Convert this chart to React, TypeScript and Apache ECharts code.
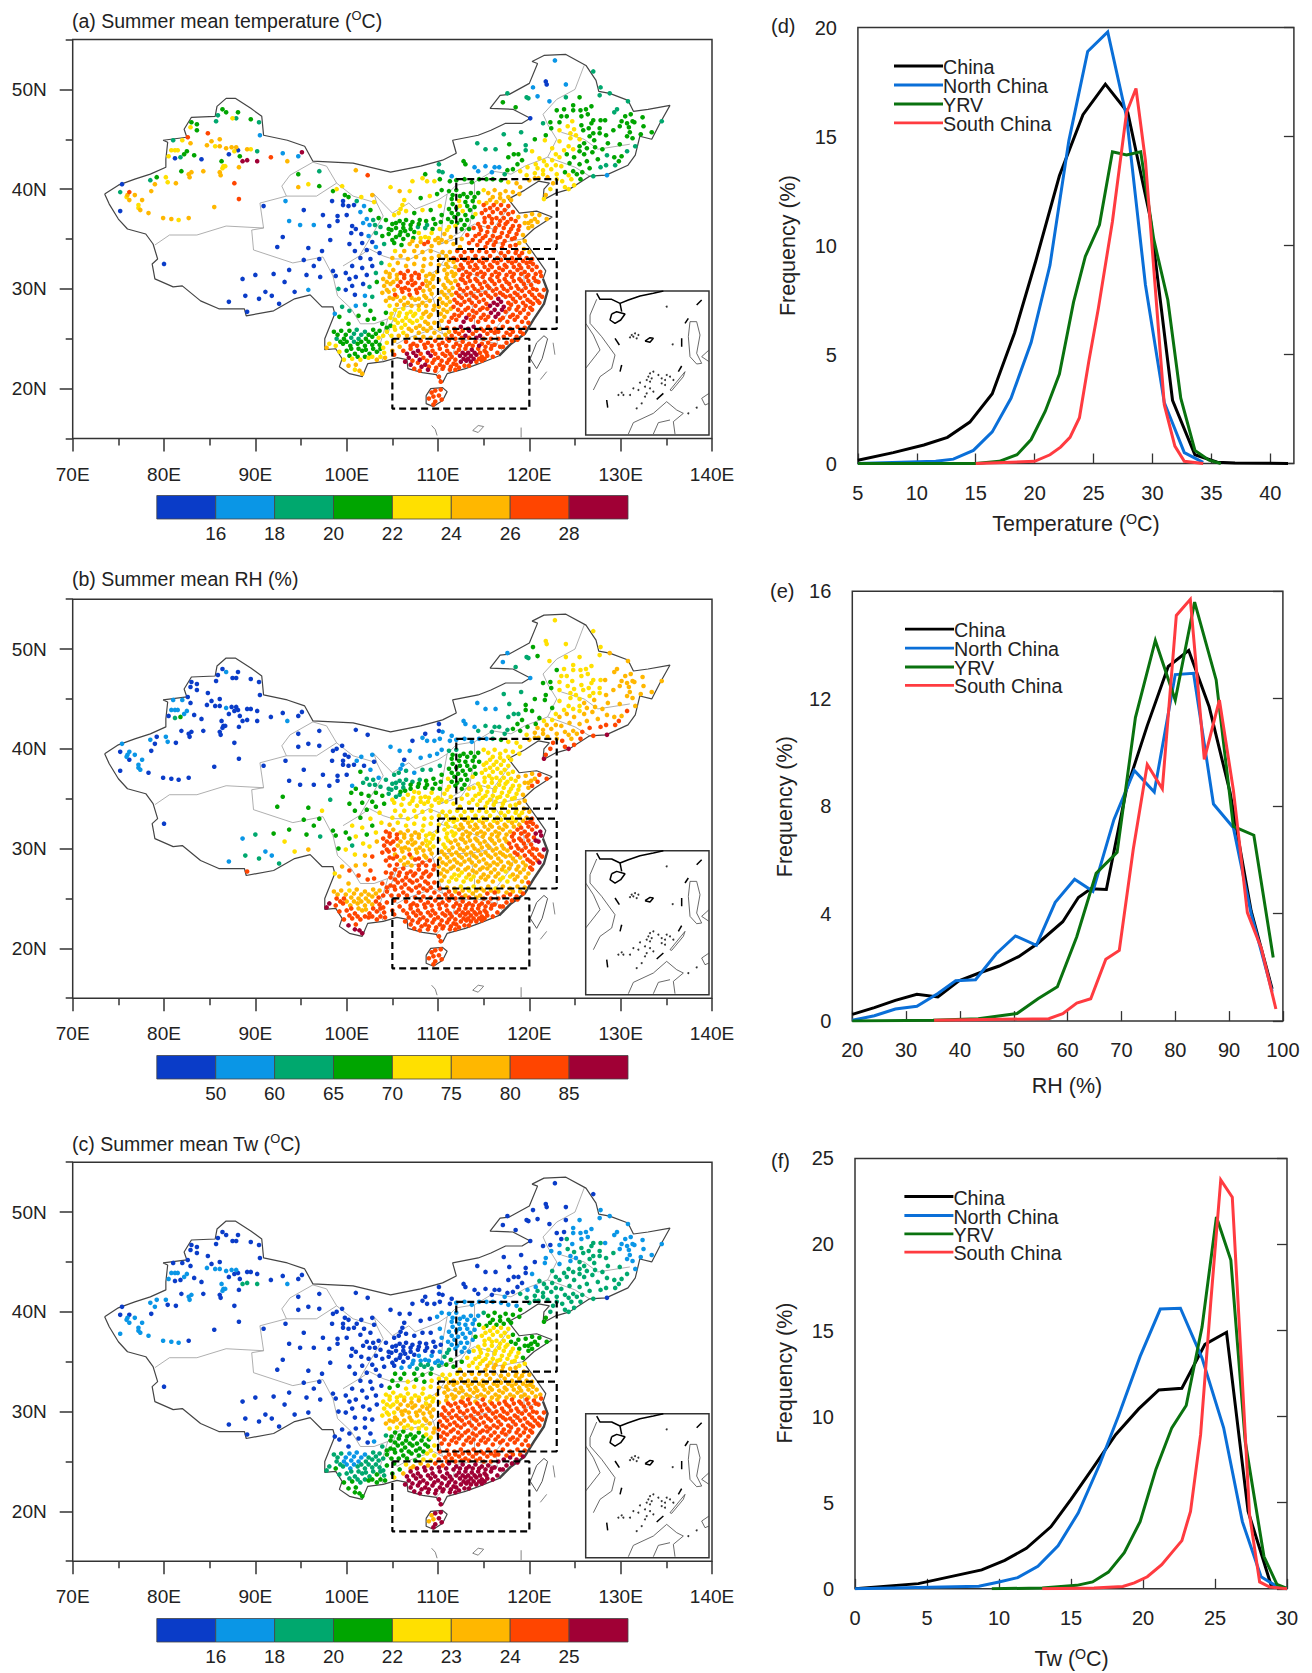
import React, { useEffect, useRef } from "react";
import * as echarts from "echarts";

const FONT = '"Liberation Sans", Arial, Helvetica, sans-serif';
const classColors = ["#0a3cc8", "#0a96e6", "#00a86e", "#00a500", "#ffe000", "#ffb700", "#ff4500", "#a00035"];

// Stations: [lon, lat, code]. code digits = class in panel (a), (b), (c).
const xinjiangStations = [
[86.4,48,300],[86.8,47.7,310],[88.1,47.7,300],[85.9,47.4,200],[85.7,46.8,200],[87.5,47.1,400],[87.9,47.1,200],[89.5,47,300],[90.4,46.7,200],[90.5,45.4,100],[83,46.7,300],[83.6,46.5,300],[83.6,45.9,300],[82.9,46.2,400],[84.8,45.6,600],[82.6,45.2,600],[81,44.9,210],[82,44.9,410],[82.9,44.6,500],[85.2,44.8,500],[86.1,45,500],[84.7,44.4,501],[85.6,44.3,401],[86.1,44.3,501],[86.8,44.1,511],[87.4,44.2,501],[87.9,44.2,501],[87.7,43.8,400],[88.1,43.9,0],[87.1,43.5,0],[88.3,43.3,300],[89.1,44,500],[89.5,44,400],[90.2,43.8,200],[91.7,43.2,600],[93,43.6,100],[94.7,43.3,100],[95.1,43.7,700],[93.5,42.8,511],[90.2,42.8,702],[89.1,42.9,702],[88.6,42.8,702],[86.3,42.8,301],[86.5,42.3,401],[86.7,42.3,401],[86.4,42.1,401],[88.2,42.2,500],[84.3,41.8,500],[86.1,41.7,500],[86.2,41.4,500],[81.9,41.8,300],[83,41.7,501],[82.7,41.5,501],[82.8,41.2,501],[80.5,43.3,401],[80.8,43.9,411],[81.2,43.9,411],[81.5,43.9,411],[82.5,43.8,311],[82.2,43.5,311],[81.8,43.2,230],[81.2,43.1,20],[83.3,43.4,300],[84.1,43,0],[79.2,41.2,301],[78.5,40.9,211],[80.2,41.2,411],[79,40.5,501],[80.4,40.7,410],[81.3,40.6,500],[78.6,39.8,500],[75.4,40.5,10],[75.2,39.7,200],[76.2,39.7,610],[76.8,39.4,511],[76,39.4,511],[75.9,39.2,411],[76.2,38.9,501],[77.6,38.9,511],[77.2,38.4,411],[77.2,38.1,411],[77.4,37.9,511],[78.3,37.6,501],[75.2,37.8,1],[79.9,37.1,501],[80.8,37,501],[81.6,36.9,401],[82.7,37.1,500],[85.5,38.2,500],[88.2,39,600],[87.7,40.6,600]];
const westStations = [
[101,41.9,500],[102.3,41.4,600],[94.7,41.5,300],[97,41.8,200],[95.8,40.5,400],[94.7,40.2,500],[97,40.3,300],[99.5,40.3,400],[98.9,40,400],[98.5,39.8,300],[99.8,39.4,300],[100.2,39.2,300],[101.1,38.8,210],[101.6,39.2,410],[102.8,39.4,510],[98.4,38.8,0],[99.6,38.8,0],[99.6,38.4,0],[100.2,38.3,0],[100.8,38.4,0],[101.9,38.3,100],[102.6,37.9,310],[103,38.7,400],[93.3,38.8,100],[90.9,38.3,0],[95.3,37.9,0],[97.4,37.4,0],[99,37.3,0],[100,37.4,0],[93.7,36.8,100],[99,36.8,0],[94.9,36.4,100],[96.4,36.4,100],[98.1,36.3,0],[100.6,36.3,10],[93,35.2,30],[98.2,34.9,20],[92.4,34.2,30],[95.8,34.1,30],[97.3,33.8,40],[80,32.5,0],[88.6,31,10],[90,31.4,20],[92,31.5,30],[93.7,31.9,30],[95.3,32.9,30],[97,33,30],[95.6,31.4,30],[96.4,32.3,30],[97.1,31.2,20],[98.5,31.8,30],[98.8,31.3,30],[99.9,31.6,30],[100.3,31,30],[93.2,30.7,40],[99.1,30,230],[94.3,29.7,40],[95.8,29.9,150],[88.9,29.3,20],[90.4,29,20],[91.1,29.7,10],[91.8,29.3,10],[87.1,28.7,10],[92.6,28.5,20],[89.1,27.7,60],
[101.5,37.7,130],[102.2,37,120],[102.9,36.9,220],[101.8,36.6,120],[102.5,36.4,120],[103.1,36.4,220],[101,36,30],[100.5,35.6,30],[101.6,35.5,30],[102.4,35.3,130],[102.8,34.7,30],[101.7,34.6,30],[100.3,34.5,30],[100.9,33.8,30],[102.2,33.9,30],[103.2,34.2,130],[103.6,33.6,40],[102.6,33,40],[101.5,33.1,30],
[100.6,32.3,40],[101.7,32.1,40],[102.8,32.3,30],[103.8,32.6,240],[103.2,31.6,240],[102.2,31.4,30],[101,31.2,40],[100.6,30.3,20],[101.8,30.5,40],[102.5,30.2,240],[103.3,30.7,350],[99.9,29.9,40],[100.9,29.4,40],[102,29.3,150],[102.8,29.2,260],[101,28.3,150],[102,28.4,250],[102.6,27.8,360],[100.3,27.8,260],[101.3,27.3,360],[102.3,26.9,360],[103,27,361],[99.5,28.2,250],[99.2,27.2,350],[100.2,26.5,350],[98.7,27.5,140]];
const northeastStations = [
[122.8,52.9,140],[127,51.8,240],[121.8,50.8,40],[121.9,50.5,40],[124,50.5,140],[120.4,50.2,130],[127.8,50.2,241],[117.6,49.6,210],[119.7,49.2,220],[119.9,49.1,220],[120.9,49.3,130],[122.2,48.8,140],[124,49.2,240],[125.5,49.2,341],[127.7,49.4,241],[128.8,49.6,251],[130.8,48.8,251],[117.1,48.7,310],[118.5,48.2,320],[120.1,47.1,10],[123,47.9,330],[123.8,48,340],[124.8,48.4,341],[124.8,47.9,341],[125.6,47.9,341],[126.2,48,341],[126.8,48.3,341],[129.6,48,251],[129.3,47.7,251],[131.1,47.5,351],[130.5,47.3,351],[131.3,46.8,351],[132.4,47.2,351],[134.5,46.8,251],[123.5,47.3,340],[124.1,47.3,342],[125.7,47.3,341],[126.4,47.5,341],[127,46.9,342],[128.3,46.9,351],[127.8,46.9,342],[122.3,46.7,330],[121.5,46.6,230],[123.3,46.7,341],[124.7,46.8,441],[125.7,46.4,342],[126.8,46.6,342],[130.1,46.8,351],[130.7,46.6,351],[131.5,46.7,351],[129.9,46.3,351],[130.9,46.2,351],[131,45.7,351],[132.5,46.3,351],[133.4,45.7,351],[132.2,45.5,351],[130.7,45.3,351],[131.3,45.1,351],[129.2,45.9,352],[128.4,45.4,352],[127.7,46.1,342],[127.7,45.6,342],[127,45.6,342],[126.6,45.3,342],[127.1,44.9,352],[126,44.6,352],[125.5,44.3,342],[129.9,44.5,352],[131.6,44.3,251],[130.7,43.8,262],[128.5,43.4,252],[129.3,43.2,352],[130.1,43.3,352],[127.8,42.2,262],[128.4,42.4,262],[129.4,42.4,262],[129.8,42.8,362],[128.5,41.4,170],
[119.1,45.7,220],[117.2,45.5,220],[114.3,44.6,210],[115.2,44,210],[116.3,44,210],[117.8,44.5,320],[119.6,44.4,230],[119.6,43.9,230],[120.6,45,330],[120.3,43.8,431],[121.7,44.9,431],[121.8,45.4,331],[122.4,46.1,331],[123.3,45.9,441],[123.3,44.8,441],[124.5,45.1,441],[125.1,45.4,441],[124.3,44.3,442],[122.5,44.1,432],[121.1,43.1,432],[117.7,43.2,320],[118.3,43.5,320],[118.8,43.5,320],[119.2,42.9,330],[118.7,42.5,330],[125.5,43.8,342],
[119.8,42.2,431],[120.7,42.5,431],[121.6,42.8,442],[122.5,42.9,442],[123.3,43.2,452],[124.1,43.5,352],[124.9,43.2,352],[126,43.5,352],[126.9,43.7,352],[127.5,43,352],[126.3,42.8,352],[125.5,42.5,352],[124.4,42.6,352],[123.5,42.3,452],[122.4,42,452],[121.5,41.9,452],[120.6,41.6,452],[119.7,41.4,442],[119,41.8,432],[120,40.9,552],[121,41.1,552],[122,41.2,552],[123,41.5,452],[123.9,41.7,352],[124.8,41.8,352],[125.8,41.7,362],[126.6,42.1,362],[127,41.3,262],[125.6,41,362],[124.6,41,452],[123.6,40.8,462],[122.6,40.6,562],[123.9,40.2,462],[124.9,40.4,462],[124.3,40,472],[121.8,39.4,563],[122.3,40,462],[121.6,39,473],
[124.2,46.3,442],[124.9,46,442],[125.9,45.9,342],[126.5,46.1,342],[124.5,45.6,441],[125.5,45,442],[126.3,44.1,352],[127.2,44.2,352],[128,44,352],[128.6,44.6,352],[123.8,43.9,442],[122.9,43.5,442],[124.8,44,442],[120.9,42.1,452],[121.9,42.4,452],[122.9,42.4,452],[123,41,452],[124.3,41.4,452],[125.2,41.5,352],[120.6,41.1,552],[121.5,41.5,452]];
const northStations = [
[114,42.2,110],[114.4,41.8,120],[115.2,42.3,120],[116.2,42.2,120],[116.7,42.2,120],[115.9,41.7,120],[111.5,41.3,110],[112.8,42.8,310],[113,42.5,310],[117.6,41.9,320],[118.2,42,330],[117.3,41.5,221],
[104.8,40.2,410],[105.8,39.8,510],[107.2,40.8,400],[108.6,41.5,300],[108.3,41.1,410],[108.8,40.8,410],[109.6,40.8,410],[110.1,41.8,200],[110.1,42.5,200],[110.5,41.7,210],[110.2,41,310],[110.4,39.9,311],[109.9,39.5,311],[109.1,39.3,410],[108.1,39.1,310],[106.9,39.8,410],[106.3,38.9,400],[106.1,38.4,410],[105.9,38,410],[105.7,37.6,420],[105.2,37.4,420],[106.5,37.8,420],[107.4,37.6,310],[108.3,37.9,420],[109.2,37.9,320],[110.2,38.3,421],[111.3,40.8,310],[112,40.9,311],[112.9,41,311],[113.7,40.7,311],[114.5,41,311],[115.3,41,311],[116,41,321],[116.9,40.9,331],[117.7,40.7,441],[118.6,40.6,541],[119,40.2,543],
[111.2,39.8,321],[112,39.9,321],[112.8,39.5,331],[113.6,39.6,331],[114.4,39.6,331],[115,39.9,442],[111.5,39,331],[112.3,38.8,431],[113,38.7,331],[113.8,38.8,331],[114.5,38.7,433],[111.2,38,331],[112,38.1,331],[112.7,37.8,431],[113.5,37.9,331],[114.1,37.5,433],[111.1,37,341],[111.8,37.2,331],[112.5,36.9,331],[113.2,36.9,331],[111.2,36.2,442],[111.9,36.3,431],[112.6,36,331],[113.4,36,341],
[115.5,39.6,543],[116.2,39.9,543],[116.8,39.5,543],[117.4,39.8,543],[118.2,39.7,543],[118.9,39.5,543],[115.7,38.9,543],[116.4,38.7,543],[117.2,38.8,543],[118,38.9,543],[115,38.4,644],[115.7,38.1,644],[116.5,38,644],[117.3,37.9,644],[118.2,37.7,643],[114.8,37.6,644],[115.6,37.3,644],[116.4,37.1,644],[117.2,37.1,644],[118,37,643],[118.8,37.2,553],
[119.6,37.3,553],[120.3,37.5,553],[121.1,37.4,563],[121.9,37,563],[119.5,36.6,553],[120.2,36.8,553],[120.9,36.7,563],[119.9,36.1,553],[120.3,36.3,563],[118.9,36.3,643],[118.2,36.3,644],[117.4,36.5,644],[116.7,36.4,644],[115.9,36.6,644],[115.1,36.7,644],[114.4,36.5,644],[113.9,36.1,644],[114.7,35.9,644],[115.4,35.7,644],[116.2,35.8,644],[117,35.6,644],[117.8,35.7,644],[118.6,35.5,644],[119.3,35.4,553],[114.1,35.3,644],[114.9,35.1,644],[115.7,34.9,644],[116.5,35.1,644],[117.3,34.8,644],[118.1,35,644],[118.9,34.6,554],[119.5,34.8,554],[113.2,35.4,644],[112.6,35,543],[113.4,34.6,644],[114.3,34.4,644],[115.2,34.2,645],[116.1,34.4,645],[117,34.1,645],[117.9,34.3,645],[118.6,33.9,645],[119.4,34,555],[120,33.7,555],
[103.5,37.1,310],[104.3,36.9,320],[105,36.5,320],[105.8,36.8,320],[106.5,36.9,320],[107.2,36.7,320],[108,36.9,320],[108.7,36.8,330],[109.5,37,330],[110.3,36.7,330],[110.4,37.4,331],[103.7,36.2,220],[104.6,36,320],[105.4,36.1,320],[106.2,36.1,320],[107,36,330],[107.8,36.2,230],[108.6,36.1,230],[109.4,36,330],[110.2,36,431],
[103.2,35.6,230],[103.9,35.3,330],[104.6,35.5,320],[105.4,35.2,320],[105.9,35.7,330],[106.7,35.4,340],[107.3,35.1,341],[107.9,35.6,441],[108.6,35.2,441],[109.3,35.6,441],[110,35.1,541],[110.7,35.5,542],[111.4,35.2,543],[104.1,34.5,230],[105.2,34.6,340],[106,34.4,341],[106.9,34.5,541],[107.7,34.3,542],[108.5,34.5,642],[109.3,34.3,542],[110.1,34.6,542],[110.9,34.7,543],[111.7,34.5,543],[112.4,34.2,544],
[116,39.2,543],[116.8,39.1,543],[117.7,39.2,543],[115.3,38.6,543],[116.1,38.4,644],[116.9,38.4,644],[117.7,38.3,644],[115.2,37.9,644],[116,37.7,644],[116.9,37.6,644],[117.7,37.5,644],[115.1,37.1,644],[115.9,37,644],[116.8,36.8,644],[117.6,36.7,644],[118.5,36.8,643],[114.6,36.2,644],[115.5,36.2,644],[116.3,36.1,644],[117.2,36.1,644],[118,36,644],[118.8,35.9,644],[114.5,35.5,644],[115.2,35.3,644],[116,35.3,644],[116.8,35.2,644],[117.6,35.3,644],[118.4,35.1,644],[113.8,34.9,644],[114.6,34.8,644],[115.4,34.6,645],[116.3,34.7,645],[117.1,34.5,645],[118.5,34.4,645],[119.9,36.6,553],[120.6,37,553],
[111.6,39.4,331],[112.4,39.3,331],[113.2,39.2,331],[114,39.2,331],[111.6,38.5,331],[112.4,38.3,431],[113.2,38.3,331],[114,38.2,331],[111.5,37.6,331],[112.2,37.5,331],[113,37.4,331],[113.8,37.2,341],[111.5,36.7,331],[112.1,36.6,331],[112.9,36.4,331],[105.4,36.6,320],[106.2,36.5,320],[107,36.4,330],[107.9,36.5,330],[108.8,36.4,230],[109.7,36.5,330],[104.9,35.9,320],[105.8,35.4,320],[106.4,35.8,330],[107.4,35.7,340],[108.1,35.1,441],[109,35.1,441],[110.4,34.9,541],[111,35.9,442],[109.7,34.9,541],[105,34.9,340],[106.2,35,340],[107.2,34.8,541],[108.1,34.7,542],[108.9,34.7,642],[107.4,33.8,543],[108.3,33.7,543],[109.2,33.8,543],[106.3,33.8,543],[105.3,33.8,443]];
const basinStations = [
[105,33.1,543],[105.9,33.3,543],[106.7,33,544],[107.6,33.2,543],[108.5,33,543],[109.3,33.1,544],[110.1,33.3,544],[104.7,32.4,453],[105.6,32.6,543],[106.5,32.3,544],[107.4,32.5,544],[108.4,32.3,544],[109.2,32.5,544],[110.1,32.4,545],
[104.3,31.7,564],[105.1,31.9,554],[105.9,31.6,654],[106.7,31.8,654],[107.5,31.6,654],[108.3,31.8,544],[109.1,31.5,544],[109.9,31.7,545],[104,31,564],[104.7,31.2,564],[105.5,31,564],[106.3,31.1,655],[107.1,30.9,655],[107.9,31.1,655],[108.7,30.8,544],[109.4,31,544],[110.1,30.9,545],
[104.1,30.3,564],[104.8,30.5,564],[105.6,30.3,655],[106.4,30.1,655],[107.2,30.4,655],[108,30.1,655],[108.8,30.3,545],[109.5,30.2,545],[103.9,29.6,564],[104.6,29.7,564],[105.3,29.4,655],[106.1,29.7,655],[106.9,29.4,665],[107.7,29.6,655],[108.5,29.3,555],[109.3,29.5,555],[104.3,28.8,565],[105.1,29,565],[105.9,28.8,555],[106.7,28.6,554],[107.5,28.9,564],[108.3,28.6,564],[109.1,28.8,565],
[104.3,27.6,362],[105.3,27.9,463],[106.2,28,463],[107,27.7,463],[107.9,27.9,463],[108.7,27.7,564],[109.5,27.9,565],[104.8,27.1,463],[105.7,27.3,463],[106.5,27.1,463],[107.3,27.3,463],[108.2,27.1,463],[109,27.2,563],[103.9,26.5,362],[104.8,26.3,363],[105.6,26.6,463],[106.4,26.4,463],[107.2,26.6,463],[108,26.3,563],[108.9,26.5,563],[109.6,26.6,564],[104.4,25.7,463],[105.3,25.9,463],[106.2,25.6,463],[107.1,25.8,563],[107.9,25.6,563],[108.8,25.8,564],[109.6,25.6,564],
[104.7,31.5,564],[105.5,31.4,564],[106.3,31.4,654],[107.1,31.3,654],[107.9,31.4,654],[108.7,31.3,544],[109.5,31.3,544],[104.4,30.7,564],[105.1,30.7,564],[105.9,30.7,655],[106.7,30.6,655],[107.5,30.6,655],[108.3,30.5,655],[109.1,30.6,545],[104.4,29.9,564],[105.2,29.9,564],[106,30,655],[106.8,29.9,655],[107.6,29.9,655],[108.4,29.8,555],[109.1,29.9,555],[104.7,29.1,565],[105.5,29.2,565],[106.3,29.1,555],[107.1,29.1,555],[107.9,29,564],[108.7,29.1,555],[109.6,28.3,565],[108.7,28.3,564],[107.9,28.3,564],[107.1,28.3,554],[106.3,28.4,554],[105.5,28.4,564],[104.7,28.3,464],
[104.9,27.5,463],[105.8,27.6,463],[106.6,27.5,463],[107.5,27.5,463],[108.4,27.5,563],[109.2,27.4,564],[105.3,26.9,463],[106.1,26.8,463],[106.9,26.8,463],[107.7,26.8,463],[108.6,26.7,563],[104.4,26.1,363],[105.2,26.2,463],[106,26.1,463],[106.8,26,563],[107.6,26.1,563],[108.4,26,563],[109.2,26.1,564],[104.9,25.3,463],[105.7,25.3,563],[106.6,25.3,563],[107.5,25.1,563],[108.4,25.2,564],[109.2,25.1,564]];
const yunnanStations = [
[98.6,25.7,352],[99.4,25.8,352],[100.3,25.8,341],[101.1,25.9,251],[102,25.7,251],[102.9,25.9,352],[103.6,25.8,352],[98.9,25,262],[99.7,25,361],[100.5,25.1,251],[101.3,25,251],[102.1,25,352],[102.8,25.2,352],[103.5,25.1,462],[98.1,24.5,472],[98.8,24.3,463],[99.6,24.5,362],[100.4,24.3,351],[101.2,24.5,352],[102,24.3,352],[102.8,24.4,352],[103.6,24.4,362],[104.4,24.6,463],[105.2,24.8,563],[97.8,24.1,572],[99.2,23.7,462],[100,23.8,362],[100.9,23.5,362],[101.7,23.8,352],[102.5,23.5,362],[103.3,23.7,363],[104.1,23.6,462],[105,23.8,563],[105.8,24.2,563],[99.7,22.9,463],[100.6,23,463],[101.5,22.9,462],[102.4,23.1,463],[103.3,22.9,563],[104.2,23.1,563],[105.2,23.4,664],[100.2,22.3,573],[101,22.4,563],[101.4,21.8,573],[100.9,21.9,473],[101.7,21.5,573],
[99,25.4,352],[99.9,25.4,351],[100.8,25.5,251],[101.6,25.4,251],[102.4,25.4,352],[103.2,25.5,352],[104,25.3,462],[99.3,24.7,362],[100,24.7,351],[100.8,24.7,251],[101.6,24.7,352],[102.4,24.7,352],[103.2,24.7,362],[104,24.1,462],[102.1,23.9,352],[100.5,24,362],[101.3,24,352],[102.9,24,362],[103.7,24,362],[100.3,23.3,362],[101.2,23.2,362],[102,23.2,362],[102.8,23.2,463],[103.7,23.2,463]];
const southStations = [
[106.5,24.7,664],[107.3,24.5,665],[108.1,24.8,665],[108.9,24.6,665],[109.7,24.8,666],[110.5,24.6,666],[111.2,24.8,667],[106.2,23.8,665],[107,24,667],[107.8,23.8,767],[108.6,24.1,667],[109.4,23.8,667],[110.2,24,667],[111,23.8,667],[106.8,23.1,767],[107.6,23.3,767],[108.4,23.1,667],[109.2,23.3,767],[110,23.1,667],[110.8,23.3,667],[111.5,23.2,667],[107,22.4,767],[107.8,22.6,667],[108.6,22.4,767],[109.4,22.6,667],[110.2,22.4,667],[111,22.6,667],[111.7,22.5,667],[108,21.8,667],[108.9,21.9,767],[109.7,21.8,667],[110.5,22,667],[111.3,21.9,667],[110.1,21.2,667],[110.3,20.7,667],
[112,24.5,667],[112.7,24.7,667],[113.4,24.5,667],[114.1,24.7,667],[114.8,24.5,667],[115.5,24.6,667],[116.2,24.4,667],[116.8,24.2,667],[112.3,23.9,667],[113,24,667],[113.7,23.9,767],[114.4,24,667],[115.1,23.8,667],[115.8,24,667],[116.5,23.6,667],[112.4,23.3,767],[113,23.4,767],[113.6,23.3,767],[114.2,23.4,767],[114.8,23.2,667],[115.4,23.3,667],[116,23.2,667],[112.5,22.7,767],[113.1,22.8,767],[113.6,22.7,767],[114.2,22.7,667],[114.8,22.8,667],[112.3,22.1,667],[112.9,22.3,667],[113.4,22.3,667],[111.9,21.9,667],
[109.3,19.6,665],[109.7,19.8,667],[110.3,19.9,667],[109.5,19.2,665],[110.1,19.3,667],[110.4,18.9,667],[109.7,18.7,667],[109,19,665],[109.5,18.4,667],
[116.6,25,667],[117.2,25.2,667],[117.9,25.4,667],[118.6,25.2,667],[119.3,25.5,667],[117.5,24.6,667],[118.1,24.8,667],[118.7,24.9,667],[117.1,24.2,667],
[110.8,25.4,566],[111.5,25.3,666],[112.3,25.5,666],[113,25.3,756],[113.8,25.5,656],[114.6,25.3,756],[115.4,25.5,666],[116.2,25.6,666],[110.2,26,566],[111,26.1,656],[111.8,26,656],[112.5,26.2,746],[113.3,26,746],[113.9,26.2,746],[114.7,26,656],[115.5,26.2,656],[116.3,26,646],[117.1,26.2,656],[117.9,26,656],[118.7,26.2,656],[119.5,26.1,656],[119.9,26.6,666],
[111.2,25.7,566],[111.9,25.7,656],[112.7,25.8,656],[113.4,25.8,746],[114.2,25.8,656],[115,25.8,656],[115.8,25.8,656],[116.6,25.7,656],[117.5,25.6,656],[118.2,25.7,656],[119,25.7,656],[110.1,25.2,566],[111,25,666],[111.9,25,666],[112.6,25.1,666],[113.4,25.1,666],[114.2,25.1,756],[115,25,666],[115.8,25,666],
[107,24.3,665],[107.7,24.3,667],[108.5,24.4,667],[109.3,24.3,667],[110.1,24.4,667],[110.9,24.3,667],[111.7,24.2,667],[112.4,24.3,667],[113.1,24.3,667],[113.8,24.3,667],[114.5,24.3,767],[115.2,24.2,667],[115.9,24.3,667],[106.6,23.5,767],[107.3,23.6,767],[108.1,23.5,667],[108.9,23.6,767],[109.7,23.5,667],[110.5,23.5,667],[111.3,23.5,667],[112,23.6,667],[112.7,23.6,767],[113.3,23.6,767],[114,23.6,767],[114.6,23.6,667],[115.3,23.6,667],
[106.4,22.7,767],[107.2,22.8,667],[108,22.9,767],[108.8,22.8,667],[109.6,22.9,667],[110.4,22.8,667],[111.2,22.9,667],[111.9,22.9,667],[112,22.4,667],[112.8,23,767],[113.3,23,767],[113.9,23,767],[114.5,23,667],[115.1,23,667],[107.4,22,667],[108.2,22.2,767],[109,22.2,667],[109.8,22.1,667],[110.6,22.2,667],[111.4,22.2,667]];
const yangtzeStations = [
[110.4,26.8,556],[111.2,26.7,646],[112,26.9,646],[112.8,26.7,746],[113.6,26.9,646],[114.4,26.7,656],[115.2,26.9,656],[116,26.7,656],[116.8,26.9,646],[117.6,26.7,646],[118.4,26.9,656],[119.2,26.7,656],
[110.3,27.5,556],[111,27.7,556],[111.8,27.4,646],[112.6,27.6,646],[113.4,27.4,656],[114.2,27.6,656],[115,27.4,656],[115.8,27.6,756],[116.6,27.5,756],[117.4,27.7,646],[118.2,27.4,656],[119,27.6,656],[119.9,27.5,656],[120.3,27.9,666],
[110.1,28.2,556],[110.9,28.4,556],[111.7,28.2,656],[112.5,28.4,656],[113.3,28.1,656],[114.1,28.3,656],[114.9,28.1,656],[115.7,28.3,756],[116.5,28.4,756],[117.2,28.2,756],[118,28.4,656],[118.8,28.2,656],[119.6,28.3,656],[120.4,28.5,666],[121.1,28.6,676],
[110.2,29,556],[111,29.1,556],[111.8,28.9,656],[112.6,29.1,656],[113.4,28.9,656],[114.2,29.1,656],[115,28.9,656],[115.8,29.1,656],[116.6,29,756],[117.4,29.2,656],[118.2,29,656],[119,29.1,656],[119.8,28.9,666],[120.6,29.1,666],[121.4,29.2,666],
[110.4,29.7,556],[111.2,29.8,556],[112,29.6,656],[112.8,29.8,656],[113.6,29.6,656],[114.4,29.8,656],[115.2,29.6,656],[116,29.8,656],[116.8,29.6,656],[117.6,29.8,656],[118.4,29.6,666],[119.2,29.8,666],[120,29.7,666],[120.8,29.9,666],[121.6,29.9,676],
[110.6,30.4,546],[111.4,30.6,556],[112.2,30.4,656],[113,30.6,656],[113.8,30.3,656],[114.6,30.5,656],[115.4,30.3,656],[116.2,30.5,656],[117,30.3,656],[117.8,30.5,666],[118.6,30.3,666],[119.4,30.5,666],[120.2,30.4,666],[121,30.7,676],
[110.9,31.1,545],[111.7,31.3,545],[112.5,31,656],[113.3,31.2,656],[114.1,31,655],[114.9,31.2,656],[115.7,31,655],[116.5,31.2,655],[117.3,31,656],[118.1,31.2,666],[118.9,31,666],[119.7,31.2,666],[120.5,31.1,666],[121.3,31.3,676],
[110.7,31.9,545],[111.5,31.7,545],[112.3,31.9,655],[113.1,31.7,655],[113.9,31.9,655],[114.7,31.7,655],[115.5,31.9,655],[116.3,31.7,655],[117.1,31.9,655],[117.9,31.7,655],[118.7,31.9,665],[119.5,31.7,665],[120.3,31.9,665],[121.2,31.7,675],
[110.9,32.5,545],[111.7,32.7,545],[112.5,32.4,655],[113.3,32.6,655],[114.1,32.4,655],[114.9,32.6,655],[115.7,32.4,655],[116.5,32.6,655],[117.3,32.4,655],[118.1,32.6,655],[118.9,32.4,655],[119.7,32.6,665],[120.4,32.5,665],
[110.9,33.3,544],[111.7,33.1,645],[112.5,33.3,645],[113.3,33.1,645],[114.1,33.3,645],[114.9,33.1,645],[115.7,33.3,645],[116.5,33.1,645],[117.3,33.3,645],[118.1,33.1,645],[118.9,33.3,645],[119.7,33.1,655],[120.3,33,665],
[110.7,27.2,556],[111.5,27.1,646],[112.3,27.3,646],[113.1,27.1,746],[113.9,27.2,646],[114.7,27.1,656],[115.5,27.2,656],[116.3,27.2,756],[117.1,27.1,646],[117.9,27.2,646],[118.7,27.2,656],[119.6,27.1,656],
[110.6,27.9,556],[111.4,28,556],[112.2,27.9,656],[113,27.9,656],[113.8,27.8,656],[114.6,27.9,656],[115.4,28,656],[116.2,27.9,756],[117,27.9,756],[117.8,28,656],[118.6,27.9,656],[119.4,27.9,656],[120.1,28.1,666],
[110.5,28.6,556],[111.3,28.7,556],[112.1,28.6,656],[112.9,28.7,656],[113.7,28.6,656],[114.5,28.7,656],[115.3,28.5,656],[116.1,28.6,756],[116.9,28.7,756],[117.7,28.6,656],[118.5,28.7,656],[119.3,28.6,656],[120.1,28.7,666],[120.9,28.8,666],
[110.7,29.4,556],[111.5,29.4,556],[112.3,29.3,656],[113.1,29.4,656],[113.9,29.3,656],[114.7,29.4,656],[115.5,29.3,656],[116.3,29.4,656],[117.1,29.4,656],[117.9,29.3,656],[118.7,29.4,666],[119.5,29.3,666],[120.3,29.4,666],[121.1,29.4,666],
[110.8,30.1,546],[111.6,30.1,556],[112.4,30,656],[113.2,30.1,656],[114,30,656],[114.8,30.1,656],[115.6,30.1,656],[116.4,30,656],[117.2,30,656],[118,30.1,666],[118.8,30,666],[119.6,30.1,666],[120.4,30,666],
[111.1,30.8,546],[111.9,30.8,556],[112.7,30.9,656],[113.5,30.8,656],[114.3,30.8,656],[115.1,30.7,656],[115.9,30.8,656],[116.7,30.8,656],[117.5,30.7,656],[118.3,30.8,666],[119.1,30.8,666],[119.9,30.8,666],[120.7,30.8,676],
[111,31.5,545],[111.9,31.5,545],[112.7,31.4,655],[113.5,31.5,655],[114.3,31.5,655],[115.1,31.5,655],[115.9,31.4,655],[116.7,31.5,655],[117.5,31.4,655],[118.3,31.5,665],[119.1,31.5,665],[119.9,31.4,665],[120.7,31.5,675],
[111.1,32.2,545],[111.9,32.2,545],[112.7,32.1,655],[113.5,32.2,655],[114.3,32.1,655],[115.1,32.2,655],[115.9,32.2,655],[116.7,32.1,655],[117.5,32.2,655],[118.3,32.2,655],[119.1,32.1,665],[119.9,32.2,665],[120.8,32.2,665],
[111.2,32.9,545],[112.1,32.9,645],[112.9,32.9,655],[113.7,32.8,645],[114.5,32.8,645],[115.3,32.9,645],[116.1,32.8,645],[116.9,32.9,645],[117.7,32.8,645],[118.5,32.8,645],[119.3,32.8,655],[120.1,32.7,665],
[110.5,33.7,544],[111.3,33.7,544],[112.1,33.8,644],[112.9,33.7,645],[113.7,33.8,645],[114.5,33.8,645],[115.3,33.7,645],[116.1,33.8,645],[116.9,33.6,645],[117.7,33.7,645],[118.5,33.6,645],[119.2,33.6,645]];
const allStations = [...xinjiangStations, ...westStations, ...northeastStations, ...northStations, ...basinStations, ...yunnanStations, ...southStations, ...yangtzeStations];

const nationalBorder = [[73.5,39.5],[75,40.4],[76.8,41],[78.5,41.5],[80.2,42.2],[80.2,43],[80.4,44.7],[79.9,44.9],[82.5,45.2],[82.2,46],[83,47.2],[85.6,47.3],[85.8,48.3],[86.8,49.1],[87.8,49.1],[89.5,48.1],[90.7,47.3],[90.9,45.4],[93.5,44.9],[95.4,44.3],[96.3,42.8],[100.7,42.6],[104.8,41.7],[108.1,42.3],[110.5,42.9],[112,43.6],[111.6,44.9],[114.4,45.4],[115.8,45.9],[117.4,46.6],[119.2,46.6],[120.1,47.1],[118.2,48],[115.7,48.1],[116.8,49.4],[117.8,49.5],[120,50.6],[120.9,52.6],[120.3,52.8],[121.6,53.4],[124,53.5],[126.2,52.4],[127.3,50.9],[127.6,49.8],[128.8,49.6],[130.8,48.9],[131.4,47.8],[133,48],[135.4,48.4],[134.3,46.6],[133.4,45],[132.1,45.3],[131.6,43.4],[130.8,42.4],[128.4,41.4],[126.6,41.3],[124.4,40],[122.9,39.6],[121.5,38.9],[121.6,40],[122.2,40.6],[121,40.8],[119.5,39.9],[117.7,39],[118.9,37.6],[120.8,37.8],[122.5,37.2],[120.5,36],[119.3,35],[120.5,33.5],[121.8,31.8],[121.5,31],[122,29.8],[121.6,28.5],[120.5,27],[119.5,25.5],[118,24.5],[116.7,23.3],[114.5,22.5],[113,22],[111,21.5],[110.5,20.6],[109.8,21.4],[108.3,21.6],[106.7,22],[106.6,22.9],[105.5,23.1],[104,22.7],[102.3,22.5],[101.7,21.2],[100.3,21.5],[99.2,22.2],[99.5,23],[98.8,24],[97.6,23.9],[97.6,25],[98.7,27.5],[98.5,28.2],[97.3,28.2],[96,29.4],[94.3,29],[92,27.8],[89,27.3],[88.8,28],[86,28],[84,28.8],[82,30.3],[81,30.2],[79,31],[78.7,32.5],[79.3,33],[78.8,34.5],[78,35.5],[76,36],[75,37],[74,38.5],[73.5,39.5]];
const hainanOutline = [[108.7,19.3],[109.2,20],[110.5,20.1],[111,19.7],[110.5,18.8],[109.5,18.2],[108.7,18.5],[108.7,19.3]];
const taiwanOutline = [[121.6,25.3],[122,25],[121.4,23],[120.8,22],[120.1,23],[120.8,24.6],[121.6,25.3]];
const southSeaBits = [[[109.3,16.3],[109.7,15.9],[109.9,15.3]],[[113.8,15.8],[114.4,16.3],[115,16.2],[114.4,15.6],[113.8,15.8]],[[119.1,16.1],[119.1,15.1]],[[122.6,24.6],[122.8,23.4]],[[121.2,20.9],[121.9,21.7]]];
const southeastCoast = [[116.7,23.3],[118,24.5],[119.5,25.5],[120.5,27],[121.6,28.5],[122,29.8],[121.5,31]];
const provinceLines = [
[[79,34.4],[80.6,35.4],[83.6,35.4],[86.8,36.3],[90.9,36.1],[89.6,35.9],[89.8,33.9],[94.1,32.6],[97.4,33.2],[98.5,31.3],[99,29.3],[100.5,28],[101.5,26.5],[103,26.5],[104.5,27],[105.5,28],[108,28.5],[109.5,29],[108.5,31],[110,32],[111,33.3],[109,34],[107,33],[105,33],[104,33.3],[102.5,34],[101.4,33.3],[99.6,32.3]],
[[90.9,36.1],[90.5,38.6],[93.4,39.3],[92.9,40.3],[93.8,41.4],[96.3,42.7]],
[[93.4,39.3],[96.7,39.3],[98.9,40.6],[100.7,39.3],[103.3,38.6],[104,37.3],[102.9,35.6],[101.4,33.3]],
[[96.3,42.7],[97.8,42.3],[98.9,40.6]],
[[103.3,38.6],[103,39.5],[105,37.6],[106.8,38.6],[107.5,38],[110,38.9],[111,39.5],[112,40.4],[114,40.7],[116,41.8],[118,41.5],[119.5,42.3],[122,43.2],[123,45],[122,46.5],[121.5,47.5],[123,49],[125,50],[126,52.4]],
[[105.5,28],[104.5,25.5],[105.5,24.5],[106.5,25],[109.5,26],[110.5,25.5],[112,24.7],[114,25],[115.5,24.7],[116.5,24.5],[117.2,23.6]],
[[113.5,29.5],[114,27],[114,25]],
[[110,32.5],[113,31.8],[115,31],[116,30],[113.5,29.5],[110,29.5]],
[[116.5,24.5],[116.3,26],[118,28],[118.3,29],[119.5,30.3],[121,31]],
[[116,34.5],[117,33],[118.5,33],[119.3,32],[119.5,30.3]],
[[110.3,34.5],[113,36],[114,36.5],[116,36],[116,34.5],[119.3,35]],
[[111,39.5],[110.5,37],[110.3,34.5],[112.5,35.2],[113.5,36.5],[114,39],[114,40.7]],
[[116,36],[117.8,38.2]],
[[122,43.2],[125,42.2],[126.6,41.3]],
[[123.5,45.7],[126,45],[127.5,44],[131,44.5]],
[[109.8,21.4],[111.5,23],[112,24.7]],
[[110,29.5],[109.5,29],[110.5,25.5]],
[[104.5,27],[103.5,24],[104,22.7]]];
const dashedBoxes = [
[[112,41],[123,41],[123,34],[112,34],[112,41]],
[[110,33],[123,33],[123,26],[110,26],[110,33]],
[[105,25],[120,25],[120,18],[105,18],[105,25]]];

// Inset map, in the inset's own axis units
const insetThick = [[[890,160],[900,178],[935,178],[960,190],[985,180],[1020,168],[1060,160],[1090,153]],[[935,222],[950,215],[975,222],[962,240],[945,250],[930,240],[935,222]],[[960,190],[965,215]],[[1035,303],[1050,293],[1060,295],[1050,307],[1035,303]],[[1155,250],[1165,235]],[[945,295],[958,315]],[[965,375],[960,395]],[[920,480],[923,503]],[[1070,478],[1090,460]],[[1145,295],[1145,320]],[[1190,195],[1205,180]],[[1135,395],[1145,378]]];
const insetThin = [[[890,178],[870,225],[870,250],[905,290],[945,345],[935,385],[900,410],[880,450]],[[857,250],[880,285],[900,330],[857,385]],[[985,582],[1000,548],[1060,520],[1100,485],[1130,510],[1150,520],[1120,545],[1125,582]],[[1060,582],[1075,548],[1110,540]],[[1170,245],[1190,245],[1200,285],[1190,340],[1205,370],[1190,372],[1170,350],[1165,290],[1170,245]],[[1227,330],[1205,350],[1227,365]],[[1110,450],[1155,395],[1150,410],[1115,452],[1110,450]],[[1227,460],[1205,475],[1215,495],[1227,490]]];
const insetIslands = [[995,285],[990,292],[1000,290],[1005,280],[1015,285],[1010,295],[1100,200],[1118,313],[1050,400],[1045,410],[1055,415],[1040,420],[1060,395],[1050,425],[1075,405],[1085,415],[1095,420],[1100,405],[1110,410],[1085,430],[1095,435],[1120,420],[1020,428],[1035,440],[1050,445],[1000,445],[1015,450],[990,465],[1040,460],[1035,470],[1060,455],[965,458],[955,465],[970,465],[1010,505],[1025,490],[1165,520],[1190,503]];

const panelTitles = ["(a) Summer mean temperature ({s|O}C)", "(b) Summer mean RH (%)", "(c) Summer mean Tw ({s|O}C)"];
const colorbarLabels = [["16","18","20","22","24","26","28"],["50","60","65","70","75","80","85"],["16","18","20","22","23","24","25"]];
const lonMajor = [70,80,90,100,110,120,130,140];
const lonMinor = [75,85,95,105,115,125,135];
const latMajor = [20,30,40,50];
const latMinor = [15,25,35,45,55];

// Frequency curves: [x, y]
const seriesNames = ["China","North China","YRV","South China"];
const seriesColors = ["#000000","#0a6fd8","#0a720f","#ff3b40"];
const tempChina = [[5,.15],[8,.5],[10.6,.85],[12.6,1.2],[14.5,1.9],[16.4,3.2],[18.3,6],[20.1,9.3],[22.1,13.2],[24.1,16],[26,17.4],[27.9,16.1],[29.8,11.3],[31.7,2.9],[33.6,.4],[35.5,.06],[37,.02],[41.5,0]];
const tempNorth = [[5,0],[11.6,.1],[13.1,.2],[14.8,.6],[16.4,1.45],[18,3],[19.7,5.55],[21.3,9.1],[22.9,14.8],[24.5,18.9],[26.2,19.8],[27.8,15.9],[29.4,8.2],[31,2.8],[32.7,.5],[34.3,.05]];
const tempYrv = [[5,0],[15,0],[17,.1],[18.5,.4],[19.7,1.1],[20.9,2.4],[22.1,4.1],[23.3,7.4],[24.3,9.5],[25.5,10.95],[26.6,14.3],[27.8,14.15],[29,14.3],[30.1,10.3],[31.3,7.5],[32.4,3],[33.6,.6],[34.8,.15],[35.8,0]];
const tempSouth = [[15,0],[20,.1],[21.3,.4],[22.2,.75],[23,1.2],[23.8,2.1],[24.6,4.7],[25.4,7.1],[26.6,11.1],[27.8,16.1],[28.6,17.2],[29.4,13.9],[30.3,7.6],[31,2.7],[31.9,.8],[32.7,.1],[34.3,0]];
const rhChina = [[20,.25],[24.1,.5],[28,.77],[32,1],[35.9,.9],[39.8,1.5],[43.7,1.8],[47.3,2.05],[50.9,2.4],[54.5,2.9],[59.1,3.7],[62,4.6],[64.3,4.93],[67.2,4.9],[70.9,8.6],[74.8,11],[78.7,13.2],[82.5,13.8],[86.3,11.7],[90.2,8.5],[94.1,4.1],[98,1.2]];
const rhNorth = [[20,.03],[24.1,.2],[28,.45],[32,.55],[35.9,1.03],[39.2,1.5],[42.9,1.54],[46.7,2.5],[50.3,3.17],[54.2,2.82],[57.7,4.42],[61.3,5.28],[64.7,4.83],[68.6,7.5],[72.4,9.33],[76.1,8.53],[80,12.9],[83.4,12.95],[87.1,8.08],[90.8,7.2],[94.1,4],[98,1.1]];
const rhYrv = [[20,0],[35,.03],[43.4,.09],[50.6,.28],[54.5,.83],[58.1,1.28],[61.7,3.14],[65.3,5.5],[69.2,6.28],[72.6,11.3],[76.3,14.17],[80,11.95],[83.6,15.6],[87.6,12.7],[90.8,7.25],[94.6,6.92],[98.2,2.37]];
const rhSouth = [[35.2,.03],[56.5,.09],[59.1,.28],[61.7,.67],[64.3,.83],[67.1,2.3],[69.6,2.63],[72.2,6.4],[74.8,9.55],[77.6,8.65],[80.2,15.1],[82.8,15.7],[85.4,9.74],[88.2,11.95],[90.8,8.6],[93.4,4.04],[96,2.7],[98.7,.45]];
const twChina = [[0,0],[4.4,.3],[8.8,1.1],[10.4,1.65],[11.9,2.35],[13.6,3.6],[15,5.2],[16.5,7],[18.1,8.95],[19.7,10.45],[21.1,11.55],[22.7,11.65],[24.3,14.2],[25.8,14.9],[27.3,4.5],[28.9,.2],[30,0]];
const twNorth = [[0,0],[8.6,.15],[10,.4],[11.3,.65],[12.7,1.3],[14.1,2.5],[15.5,4.4],[17,7.25],[18.3,10.05],[19.8,13.5],[21.2,16.25],[22.6,16.3],[24.1,13.4],[25.6,9.35],[26.9,3.9],[28.2,.7],[29.3,.14],[30,0]];
const twYrv = [[9.5,0],[13,.05],[15.4,.2],[16.5,.4],[17.6,.97],[18.7,2.1],[19.8,3.9],[20.9,6.95],[22,9.35],[23,10.65],[24.1,15.2],[25.1,21.6],[26.1,19.1],[27.1,8.55],[28.4,1.87],[29.3,.26],[30,.03]];
const twSouth = [[13,0],[16.6,.04],[18.6,.14],[19.4,.34],[20.3,.7],[21.3,1.4],[22,2.1],[22.7,2.8],[23.3,4.5],[24,8.95],[24.7,16.6],[25.4,23.75],[26.2,22.75],[26.8,13.6],[27.4,4.3],[28.1,.4],[28.8,.1],[30,0]];

const mapTops = [39.5, 599.2, 1162.2];
const barTops = [495.5, 1055.5, 1618.5];
const lineLayouts = [
  { left: 857.9, top: 27.5, w: 436, h: 436, xMin: 5, xMax: 42, xTicks: [5,10,15,20,25,30,35,40], yMax: 20, yStep: 5, curves: [tempChina,tempNorth,tempYrv,tempSouth], tag: "(d)", tagX: 771, tagY: 26, legX: 894, legY: [66,85,104,122.8], name: "Temperature ({s|O}C)", nameX: 1076, nameY: 524, freqX: 788, freqY: 245.6 },
  { left: 852.3, top: 591.3, w: 430.6, h: 429.8, xMin: 20, xMax: 100, xTicks: [20,30,40,50,60,70,80,90,100], yMax: 16, yStep: 4, curves: [rhChina,rhNorth,rhYrv,rhSouth], tag: "(e)", tagX: 770, tagY: 590.7, legX: 905, legY: [629.2,648.2,667,685.4], name: "RH (%)", nameX: 1067, nameY: 1086, freqX: 785, freqY: 806.7 },
  { left: 855, top: 1158.4, w: 432, h: 430.4, xMin: 0, xMax: 30, xTicks: [0,5,10,15,20,25,30], yMax: 25, yStep: 5, curves: [twChina,twNorth,twYrv,twSouth], tag: "(f)", tagX: 771, tagY: 1161, legX: 904.4, legY: [1196.5,1215.5,1233.9,1252.2], name: "Tw ({s|O}C)", nameX: 1071.6, nameY: 1659, freqX: 785, freqY: 1373 },
];

function buildOption() {
  const grid: any[] = [], xAxis: any[] = [], yAxis: any[] = [], series: any[] = [], graphic: any[] = [];
  const supRich = (base: number) => ({ s: { fontSize: base * 0.66, fontFamily: FONT, fill: "#222", color: "#222", padding: [0, 0, base * 0.5, 0] } });
  const text = (t: string, x: number, y: number, size: number, align = "left", rotation = 0) => ({
    type: "text", x, y, rotation, z: 50,
    style: { text: t, fontSize: size, fontFamily: FONT, fill: "#222", align, verticalAlign: "middle", rich: supRich(size) },
  });
  const digit = [(c: number) => Math.floor(c / 100), (c: number) => Math.floor(c / 10) % 10, (c: number) => c % 10];

  mapTops.forEach((top, i) => {
    const g = grid.length;
    grid.push({ left: 72.7, top, width: 639.3, height: 399, show: true, borderColor: "#333", borderWidth: 1.5, containLabel: false });
    const xa = xAxis.length, ya = yAxis.length;
    const labelStyle = { fontSize: 19, fontFamily: FONT, color: "#222" };
    xAxis.push({ type: "value", gridIndex: g, position: "bottom", min: 70, max: 140, splitLine: { show: false }, axisLine: { show: false },
      axisTick: { show: true, length: 13, customValues: lonMajor, lineStyle: { color: "#333", width: 1.5 } },
      axisLabel: { show: true, margin: 26, customValues: lonMajor, formatter: (v: number) => v + "E", ...labelStyle } });
    xAxis.push({ type: "value", gridIndex: g, position: "bottom", min: 70, max: 140, splitLine: { show: false }, axisLine: { show: false },
      axisTick: { show: true, length: 7, customValues: lonMinor, lineStyle: { color: "#333", width: 1.5 } }, axisLabel: { show: false } });
    yAxis.push({ type: "value", gridIndex: g, position: "left", min: 15, max: 55, splitLine: { show: false }, axisLine: { show: false },
      axisTick: { show: true, length: 13, customValues: latMajor, lineStyle: { color: "#333", width: 1.5 } },
      axisLabel: { show: true, margin: 26, customValues: latMajor, formatter: (v: number) => v + "N", ...labelStyle } });
    yAxis.push({ type: "value", gridIndex: g, position: "left", min: 15, max: 55, splitLine: { show: false }, axisLine: { show: false },
      axisTick: { show: true, length: 7, customValues: latMinor, lineStyle: { color: "#333", width: 1.5 } }, axisLabel: { show: false } });
    const line = (data: number[][], color: string, width: number, z: number, type: any = "solid") => series.push({
      type: "line", xAxisIndex: xa, yAxisIndex: ya, data, symbol: "none", silent: true, z,
      lineStyle: { color, width, type }, emphasis: { disabled: true },
    });
    provinceLines.forEach((p) => line(p, "#9a9a9a", 0.8, 2));
    line(nationalBorder, "#444", 1.2, 3);
    line(hainanOutline, "#444", 1.2, 3);
    line(taiwanOutline, "#555", 1, 3);
    southSeaBits.forEach((p) => line(p, "#777", 0.9, 3));
    line(southeastCoast, "#444", 2.4, 3);
    classColors.forEach((color, k) => {
      series.push({
        type: "scatter", xAxisIndex: xa, yAxisIndex: ya, symbolSize: 4.6, silent: true, z: 4,
        itemStyle: { color, opacity: 1 },
        data: allStations.filter((s) => digit[i](s[2]) === k).map((s) => [s[0], s[1]]),
      });
    });
    dashedBoxes.forEach((b) => line(b, "#000", 2.2, 5, [7, 4]));

    // inset
    const ig = grid.length;
    grid.push({ left: 585.7, top: top + 251.5, width: 123.3, height: 144, show: true, backgroundColor: "#fff", borderColor: "#333", borderWidth: 1.5, z: 6 });
    const ix = xAxis.length, iy = yAxis.length;
    xAxis.push({ type: "value", gridIndex: ig, min: 857, max: 1227, show: false });
    yAxis.push({ type: "value", gridIndex: ig, min: 153, max: 585, inverse: true, show: false });
    const iline = (data: number[][], color: string, width: number) => series.push({
      type: "line", xAxisIndex: ix, yAxisIndex: iy, data, symbol: "none", silent: true, z: 7, lineStyle: { color, width },
    });
    insetThin.forEach((p) => iline(p, "#444", 0.8));
    insetThick.forEach((p) => iline(p, "#000", 1.5));
    series.push({ type: "scatter", xAxisIndex: ix, yAxisIndex: iy, data: insetIslands, symbolSize: 2, silent: true, z: 7, itemStyle: { color: "#000" } });

    // title and colour bar
    graphic.push(text(panelTitles[i], 72, [20.7, 579, 1143.5][i], 19.5));
    const cw = 58.9, cl = 156.8;
    classColors.forEach((fill, k) => {
      graphic.push({ type: "rect", z: 40, shape: { x: cl + k * cw, y: barTops[i], width: cw, height: 23.5 }, style: { fill, stroke: "#444", lineWidth: 0.8 } });
    });
    colorbarLabels[i].forEach((t, k) => graphic.push(text(t, cl + (k + 1) * cw, barTops[i] + 38, 19, "center")));
  });

  lineLayouts.forEach((p) => {
    const g = grid.length;
    grid.push({ left: p.left, top: p.top, width: p.w, height: p.h, show: true, borderColor: "#333", borderWidth: 1.5 });
    const xa = xAxis.length, ya = yAxis.length;
    const lab = { fontSize: 20, fontFamily: FONT, color: "#222" };
    xAxis.push({ type: "value", gridIndex: g, min: p.xMin, max: p.xMax, splitLine: { show: false }, axisLine: { show: false },
      axisTick: { show: true, inside: true, length: 10, customValues: p.xTicks, lineStyle: { color: "#333", width: 1.3 } },
      axisLabel: { show: true, margin: 19, customValues: p.xTicks, ...lab } });
    yAxis.push({ type: "value", gridIndex: g, min: 0, max: p.yMax, interval: p.yStep, splitLine: { show: false }, axisLine: { show: false },
      axisTick: { show: false }, axisLabel: { show: true, margin: 21, ...lab } });
    yAxis.push({ type: "value", gridIndex: g, position: "right", min: 0, max: p.yMax, interval: p.yStep, splitLine: { show: false }, axisLine: { show: false },
      axisTick: { show: true, inside: true, length: 10, lineStyle: { color: "#333", width: 1.3 } }, axisLabel: { show: false } });
    p.curves.forEach((data, k) => series.push({
      type: "line", name: seriesNames[k], xAxisIndex: xa, yAxisIndex: ya, data, symbol: "none", silent: true, z: 4 + k,
      lineStyle: { color: seriesColors[k], width: 3, join: "miter" },
    }));
    graphic.push(text(p.tag, p.tagX, p.tagY, 20));
    graphic.push(text(p.name, p.nameX, p.nameY, 21.5, "center"));
    graphic.push(text("Frequency (%)", p.freqX, p.freqY, 21.5, "center", Math.PI / 2));
    seriesNames.forEach((n, k) => {
      graphic.push({ type: "line", z: 45, shape: { x1: p.legX, y1: p.legY[k], x2: p.legX + 49, y2: p.legY[k] }, style: { stroke: seriesColors[k], lineWidth: 2.8 } });
      graphic.push(text(n, p.legX + 49, p.legY[k] + 1, 19.7));
    });
  });

  return { animation: false, backgroundColor: "#fff", tooltip: { show: false }, grid, xAxis, yAxis, series, graphic };
}

export default function App() {
  const ref = useRef<HTMLDivElement>(null);
  useEffect(() => {
    const chart = echarts.init(ref.current!, undefined, { renderer: "svg" });
    chart.setOption(buildOption() as any);
    return () => chart.dispose();
  }, []);
  return <div ref={ref} style={{ position: "absolute", left: 0, top: 0, width: 1312, height: 1673 }} />;
}
